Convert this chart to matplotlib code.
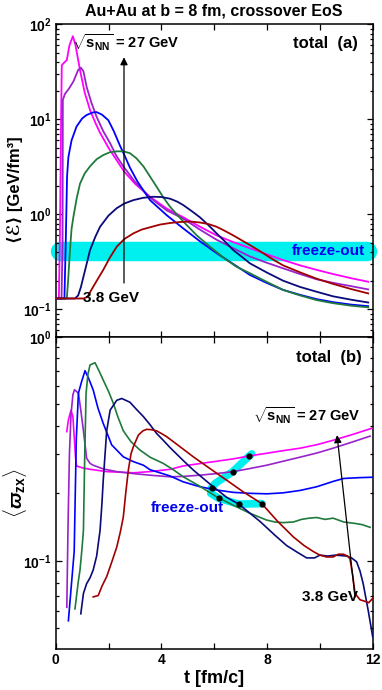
import matplotlib
matplotlib.use("Agg")
import matplotlib.pyplot as plt
import numpy as np

plt.rcParams['font.family'] = ['Liberation Sans', 'DejaVu Sans']
plt.rcParams['font.weight'] = 'bold'
plt.rcParams['mathtext.fontset'] = 'custom'
plt.rcParams['mathtext.rm'] = 'Liberation Sans:bold'
plt.rcParams['mathtext.bf'] = 'Liberation Sans:bold'
plt.rcParams['mathtext.it'] = 'Liberation Sans:bold:italic'
plt.rcParams['mathtext.sf'] = 'Liberation Sans:bold'

# ---------------- data: panel (a) energy density ----------------
eps_magenta_t = [0, 0.12, 0.16, 0.2, 0.23, 0.3, 0.42, 0.52, 0.65, 0.75, 0.92, 1.1, 1.3, 1.5, 1.68, 2.0, 2.31, 2.6, 3.0,
                 3.57, 4.2, 4.83, 5.46, 6.09, 6.72, 7.35, 7.98, 8.61, 9.25, 9.88, 10.5, 11.2, 11.83]
eps_magenta_v = [0.13, 0.13, 0.6, 8, 37, 39, 42, 60, 75, 60, 33, 19, 12.5, 9.2, 7.2, 5.0, 3.7, 2.8, 2.1,
                 1.53, 1.15, 0.93, 0.74, 0.6, 0.51, 0.44, 0.38, 0.33, 0.29, 0.26, 0.235, 0.212, 0.195]

eps_purple_t = [0, 0.22, 0.26, 0.27, 0.35, 0.5, 0.67, 0.85, 0.95, 1.05, 1.17, 1.35, 1.55, 1.8, 2.06, 2.3, 2.56, 3.0,
                3.57, 4.2, 4.83, 5.46, 6.09, 6.72, 7.35, 7.98, 8.61, 9.25, 9.88, 10.5, 11.2, 11.83]
eps_purple_v = [0.13, 0.13, 0.5, 16, 18.5, 21, 25, 33, 35, 32, 22, 15, 10.6, 7.5, 5.6, 4.1, 3.2, 2.2,
                1.5, 1.1, 0.9, 0.69, 0.54, 0.44, 0.36, 0.31, 0.27, 0.235, 0.207, 0.19, 0.175, 0.162]

eps_blue_t = [0, 0.33, 0.38, 0.43, 0.48, 0.6, 0.79, 1.0, 1.17, 1.4, 1.55, 1.75, 1.99, 2.2, 2.43, 2.6, 2.81, 3.1,
              3.57, 4.2, 4.83, 5.46, 6.09, 6.72, 7.35, 7.98, 8.61, 9.25, 9.88, 10.5, 11.2, 11.83]
eps_blue_v = [0.13, 0.13, 0.5, 2.5, 4.0, 6.0, 8.4, 10.2, 11.1, 11.8, 11.9, 11.2, 9.8, 7.5, 5.3, 4.2, 3.1, 2.2,
              1.41, 0.98, 0.71, 0.52, 0.39, 0.3, 0.23, 0.19, 0.16, 0.142, 0.128, 0.119, 0.112, 0.108]

eps_green_t = [0, 0.42, 0.47, 0.54, 0.6, 0.67, 0.8, 0.92, 1.1, 1.3, 1.55, 1.8, 2.05, 2.31, 2.56, 2.81, 3.05, 3.32,
               3.57, 3.82, 4.08, 4.33, 4.58, 4.83, 5.34, 5.84, 6.35, 6.85, 7.35, 7.98, 8.61, 9.25, 9.88, 10.5,
               11.2, 11.83]
eps_green_v = [0.13, 0.13, 0.2, 0.42, 0.7, 0.94, 1.5, 2.1, 2.7, 3.2, 3.8, 4.2, 4.5, 4.6, 4.6, 4.4, 3.9, 3.2,
               2.5, 1.95, 1.5, 1.2, 1.0, 0.84, 0.6, 0.456, 0.35, 0.28, 0.24, 0.195, 0.16, 0.14, 0.125, 0.116,
               0.109, 0.105]

eps_navy_t = [0, 0.73, 0.85, 0.95, 1.05, 1.17, 1.3, 1.5, 1.68, 2.0, 2.31, 2.6, 2.94, 3.3, 3.69, 4.0, 4.33, 4.6,
              4.83, 5.15, 5.46, 5.78, 6.09, 6.4, 6.72, 7.03, 7.35, 7.98, 8.61, 9.25, 9.88, 10.5, 11.2, 11.83]
eps_navy_v = [0.13, 0.13, 0.14, 0.17, 0.22, 0.3, 0.42, 0.58, 0.74, 0.97, 1.16, 1.3, 1.41, 1.49, 1.53, 1.52, 1.46,
              1.36, 1.25, 1.08, 0.93, 0.77, 0.63, 0.52, 0.42, 0.36, 0.305, 0.245, 0.2, 0.172, 0.153, 0.137,
              0.126, 0.118]

eps_red_t = [0, 1.05, 1.2, 1.42, 1.6, 1.8, 2.05, 2.31, 2.6, 2.94, 3.25, 3.57, 3.95, 4.33, 4.7, 5.08, 5.46, 5.78,
             6.09, 6.4, 6.72, 7.03, 7.35, 7.67, 7.98, 8.3, 8.61, 9.25, 9.88, 10.5, 11.2, 11.83]
eps_red_v = [0.13, 0.13, 0.135, 0.173, 0.21, 0.26, 0.35, 0.456, 0.55, 0.63, 0.69, 0.73, 0.78, 0.81, 0.83, 0.84,
             0.82, 0.79, 0.74, 0.67, 0.6, 0.535, 0.475, 0.42, 0.37, 0.325, 0.29, 0.245, 0.21, 0.185, 0.163, 0.147]

eps_freezeout = 0.41
eps_freezeout_t = [0.15, 11.8]

# ---------------- data: panel (b) vorticity ----------------
w_magenta_t = [0.42, 0.48, 0.58, 0.65, 0.7, 0.75, 0.79, 1.0, 1.3, 1.93, 2.94, 3.57, 4.33, 4.83, 5.5, 6.09, 6.72,
               7.35, 8.0, 8.6, 9.25, 9.9, 10.5, 11.2, 11.96]
w_magenta_v = [0.377, 0.425, 0.47, 0.44, 0.36, 0.29, 0.265, 0.26, 0.256, 0.25, 0.247, 0.25, 0.256, 0.265, 0.272,
               0.278, 0.285, 0.294, 0.302, 0.31, 0.318, 0.33, 0.345, 0.365, 0.39]

w_purple_t = [0.42, 0.47, 0.52, 0.58, 0.65, 0.71, 0.86, 0.95, 1.05, 1.17, 1.3, 1.42, 1.8, 2.31, 2.94, 3.57, 4.33,
              4.83, 5.46, 6.09, 6.72, 7.35, 7.99, 8.6, 9.25, 9.9, 10.5, 11.2, 11.9]
w_purple_v = [0.062, 0.15, 0.3, 0.45, 0.55, 0.58, 0.56, 0.47, 0.38, 0.287, 0.272, 0.267, 0.257, 0.25, 0.245, 0.241,
              0.237, 0.238, 0.241, 0.245, 0.25, 0.258, 0.267, 0.278, 0.29, 0.303, 0.318, 0.338, 0.36]

w_blue_t = [0.48, 0.62, 0.7, 0.78, 0.86, 0.98, 1.11, 1.25, 1.42, 1.6, 1.8, 2.12, 2.56, 2.94, 3.32, 3.57, 4.33,
            4.83, 5.46, 6.09, 6.72, 7.35, 8.0, 8.61, 9.25, 9.88, 10.5, 10.9, 11.5, 12.0]
w_blue_v = [0.054, 0.085, 0.11, 0.35, 0.56, 0.63, 0.705, 0.65, 0.578, 0.48, 0.41, 0.329, 0.291, 0.277, 0.267,
            0.255, 0.239, 0.225, 0.214, 0.207, 0.202, 0.2, 0.199, 0.201, 0.206, 0.214, 0.226, 0.233, 0.235, 0.236]

w_green_t = [0.73, 0.85, 0.92, 1.0, 1.05, 1.1, 1.15, 1.22, 1.3, 1.49, 1.65, 1.8, 2.0, 2.18, 2.35, 2.56, 2.85, 3.19,
             3.57, 4.07, 4.45, 4.83, 5.46, 6.09, 6.72, 7.35, 7.98, 8.3, 8.61, 9.0, 9.3, 9.6, 9.88, 10.2, 10.5,
             10.9, 11.3, 11.6, 11.9]
w_green_v = [0.061, 0.08, 0.091, 0.115, 0.137, 0.3, 0.56, 0.68, 0.748, 0.765, 0.7, 0.64, 0.57, 0.505, 0.44, 0.38,
             0.34, 0.312, 0.29, 0.272, 0.255, 0.237, 0.215, 0.193, 0.177, 0.163, 0.152, 0.149, 0.148, 0.149, 0.153,
             0.155, 0.156, 0.153, 0.155, 0.149, 0.147, 0.145, 0.141]

w_navy_t = [0.95, 1.05, 1.17, 1.3, 1.42, 1.55, 1.68, 1.75, 1.8, 1.93, 2.06, 2.31, 2.5, 2.81, 3.05, 3.32, 3.57,
            3.82, 4.07, 4.33, 4.83, 5.21, 5.84, 6.47, 6.93, 7.73, 8.3, 8.74, 9.1, 9.5, 9.8, 10.0, 10.3, 10.6,
            11.01, 11.2, 11.39, 11.52, 11.64, 11.83, 12.0]
w_navy_v = [0.058, 0.0715, 0.079, 0.084, 0.091, 0.105, 0.137, 0.18, 0.229, 0.38, 0.47, 0.52, 0.53, 0.51, 0.475,
            0.44, 0.405, 0.37, 0.345, 0.32, 0.28, 0.254, 0.22, 0.192, 0.179, 0.15, 0.13, 0.117, 0.11, 0.103, 0.103,
            0.106, 0.105, 0.106, 0.105, 0.103, 0.099, 0.09, 0.079, 0.06, 0.0458]

w_red_t = [1.42, 1.61, 1.75, 1.93, 2.1, 2.31, 2.45, 2.56, 2.65, 2.75, 2.85, 2.94, 3.13, 3.3, 3.44, 3.6, 3.82, 4.0,
           4.2, 4.6, 5.21, 5.84, 6.47, 7.1, 7.8, 8.4, 8.99, 9.4, 9.75, 10.0, 10.26, 10.5, 10.7, 10.89, 11.05,
           11.14, 11.25, 11.33, 11.52, 11.7, 11.85, 12.0]
w_red_v = [0.069, 0.07, 0.077, 0.085, 0.097, 0.115, 0.135, 0.157, 0.2, 0.254, 0.3, 0.323, 0.364, 0.38, 0.386,
           0.385, 0.38, 0.37, 0.358, 0.33, 0.291, 0.258, 0.229, 0.203, 0.18, 0.15, 0.128, 0.117, 0.11, 0.106,
           0.104, 0.104, 0.107, 0.107, 0.105, 0.102, 0.085, 0.0715, 0.067, 0.066, 0.065, 0.068]

# freeze-out points in panel (b)
fo_dot_t = [7.33, 6.70, 5.90, 6.17, 6.93, 7.80]
fo_dot_v = [0.294, 0.25, 0.212, 0.19, 0.179, 0.18]
fo_path_t = [7.42, 7.33, 6.70, 6.05, 5.90, 5.87, 6.17, 6.93, 7.80]
fo_path_v = [0.30, 0.294, 0.25, 0.222, 0.212, 0.20, 0.19, 0.179, 0.18]

colors = ['#ff00ff', '#9922cc', '#0000ff', '#1f7a3c', '#0a0a78', '#a00000']
eps_series = [(eps_magenta_t, eps_magenta_v), (eps_purple_t, eps_purple_v), (eps_blue_t, eps_blue_v),
              (eps_green_t, eps_green_v), (eps_navy_t, eps_navy_v), (eps_red_t, eps_red_v)]
w_series = [(w_magenta_t, w_magenta_v), (w_purple_t, w_purple_v), (w_blue_t, w_blue_v),
            (w_green_t, w_green_v), (w_navy_t, w_navy_v), (w_red_t, w_red_v)]

W, H = 382, 690
fig = plt.figure(figsize=(W / 100, H / 100), dpi=100)
left = 55.7 / W
right = 372.7 / W
axA = fig.add_axes([left, 1 - 336.7 / H, right - left, (336.7 - 24.3) / H])
axB = fig.add_axes([left, 1 - 649 / H, right - left, (649 - 336.7) / H])

for ax in (axA, axB):
    ax.set_yscale('log')
    ax.set_xlim(0, 12)
    for s in ax.spines.values():
        s.set_linewidth(1.1)
    ax.tick_params(which='both', direction='in', top=True, right=True, width=0.9)
    ax.tick_params(which='major', length=4.5, labelsize=10, pad=3)
    ax.tick_params(which='minor', length=2.5)
    ax.set_xticks([0, 2, 4, 6, 8, 10, 12])

axA.set_ylim(0.0515, 100)
axB.set_ylim(0.0404, 1.0)

axA.set_xticklabels([])
axB.set_xticklabels(['0', '', '4', '', '8', '', '12'], fontweight='bold')
axA.set_yticks([0.1, 1, 10, 100])
axA.set_yticklabels([r'$\mathbf{10^{-1}}$', r'$\mathbf{10^{0}}$', r'$\mathbf{10^{1}}$', r'$\mathbf{10^{2}}$'])
axB.set_yticks([0.1, 1])
axB.set_yticklabels([r'$\mathbf{10^{-1}}$', r'$\mathbf{10^{0}}$'])
for ax in (axA, axB):
    ax.yaxis.set_minor_formatter(matplotlib.ticker.NullFormatter())

# panel (a)
axA.plot(eps_freezeout_t, [eps_freezeout, eps_freezeout], color='#00f0f0', lw=14, solid_capstyle='round',
         clip_on=False, zorder=1)
for (t, v), c in zip(eps_series, colors):
    axA.plot(t, v, color=c, lw=1.3, zorder=3)

axA.annotate('', xy=(2.585, 45), xytext=(2.585, 0.189),
             arrowprops=dict(arrowstyle='-|>', color='k', lw=0.9, mutation_scale=11,
                             shrinkA=0, shrinkB=0), zorder=4)
axA.text(0.6, 64, r'$\sqrt{\mathbf{s}_{\mathbf{NN}}}$' + ' = 27 GeV', fontsize=10.5, fontweight='bold',
         ha='left', va='center')
axA.text(1.04, 0.133, '3.8 GeV', fontsize=11, fontweight='bold', ha='left', va='center')
axA.text(11.45, 63, 'total  (a)', fontsize=12, fontweight='bold', ha='right', va='center')
axA.text(11.7, eps_freezeout, 'freeze-out', fontsize=11, fontweight='bold', color='#0000ee',
         ha='right', va='center', zorder=5)
axA.set_title('Au+Au at b = 8 fm, crossover EoS', fontsize=11.5, fontweight='bold', pad=6)
axA.set_ylabel('⟨ℰ⟩ [GeV/fm³]', fontsize=12, fontweight='bold', va='center')
axA.yaxis.set_label_coords((15 - 55.7) / (372.7 - 55.7), 0.47)

# panel (b)
for (t, v), c in zip(w_series, colors):
    axB.plot(t, v, color=c, lw=1.2, zorder=3)
axB.plot(fo_path_t, fo_path_v, color='#00f0f0', lw=5.5, solid_capstyle='round', zorder=2)
axB.plot(fo_dot_t, fo_dot_v, 'o', color='k', ms=3.5, zorder=5)

axB.annotate('', xy=(10.65, 0.364), xytext=(11.33, 0.0689),
             arrowprops=dict(arrowstyle='-|>', color='k', lw=0.9, mutation_scale=11,
                             shrinkA=0, shrinkB=0), zorder=4)
axB.text(7.47, 0.443, r'$\sqrt{\mathbf{s}_{\mathbf{NN}}}$' + ' = 27 GeV', fontsize=10.5, fontweight='bold',
         ha='left', va='center')
axB.text(9.32, 0.069, '3.8 GeV', fontsize=11, fontweight='bold', ha='left', va='center')
axB.text(11.6, 0.81, 'total  (b)', fontsize=12, fontweight='bold', ha='right', va='center')
axB.text(3.61, 0.172, 'freeze-out', fontsize=11, fontweight='bold', color='#0000ee',
         ha='left', va='center', zorder=5)
axB.set_ylabel(r'$\langle\varpi_{\mathbf{zx}}\rangle$', fontsize=14, va='center')
axB.yaxis.set_label_coords((15 - 55.7) / (372.7 - 55.7), 0.5)
axB.set_xlabel('t [fm/c]', fontsize=13, fontweight='bold', labelpad=2)

fig.savefig('out.png', dpi=100)
